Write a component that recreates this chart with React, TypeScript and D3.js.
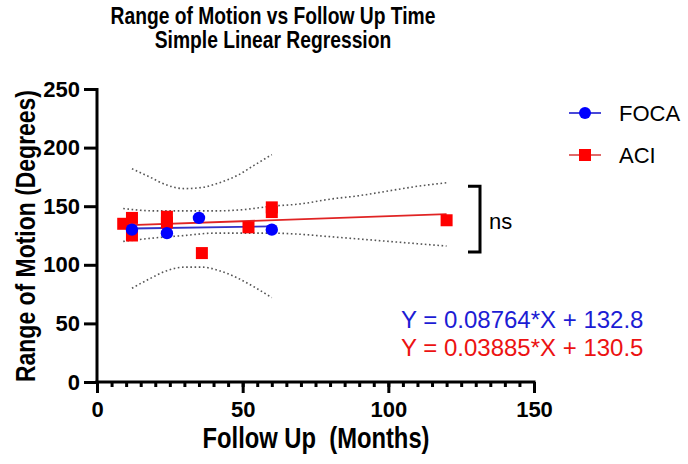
import React, {useEffect, useRef} from 'react';
import * as d3 from 'd3';

// FOCA measurements (months, degrees)
const focaX = [12, 24, 35, 60];
const focaY = [130, 127, 140, 130];

// ACI measurements (months, degrees)
const aciX = [9, 12, 12, 24, 24, 36, 52, 60, 60, 120];
const aciY = [135, 140, 125, 141, 136, 110, 132, 149, 145, 138];

// linear fits: index 0 = FOCA, 1 = ACI
const fitSlopes = [0.03885, 0.08764];
const fitIntercepts = [130.5, 132.8];
const fitRanges = [[12, 60], [9, 120]];

// 95% confidence bands
const focaBandX = [12, 18, 24, 30, 36, 42, 48, 54, 60];
const focaUpper = [182, 175, 168, 165, 166, 170, 176, 185, 194];
const focaLower = [80, 88, 95, 98, 98, 95, 89, 81, 72];
const aciBandX = [9, 20, 30, 40, 50, 60, 70, 80, 90, 100, 110, 120];
const aciUpper = [148, 146, 146, 146, 147, 150, 152, 156, 159, 163, 167, 170];
const aciLower = [120, 123, 125, 127, 127, 127, 126, 124, 122, 120, 118, 116];

const xTicks = [0, 50, 100, 150];
const yTicks = [0, 50, 100, 150, 200, 250];
const seriesNames = ['FOCA', 'ACI'];

// equations printed in the lower right, in this order and colour
const equationOrder = [1, 0];
const equationColors = ['#1c1cd4', '#ec1212'];

const BOLD = '"Liberation Sans", Arial, sans-serif';

const RegressionChart = () => {
  const svgRef = useRef(null);

  useEffect(() => {
    const svg = d3.select(svgRef.current);
    svg.selectAll('*').remove();

    const x = d3.scaleLinear().domain([0, 150]).range([97, 534]);
    const y = d3.scaleLinear().domain([0, 250]).range([382, 89]);

    // titles (narrow bold)
    const title = svg.append('g').attr('transform', 'translate(273,0) scale(0.82,1)');
    title.append('text').attr('y', 24).text('Range of Motion vs Follow Up Time');
    title.append('text').attr('y', 48).text('Simple Linear Regression');
    title.selectAll('text')
      .attr('text-anchor', 'middle')
      .attr('font-family', BOLD)
      .attr('font-weight', 'bold')
      .attr('font-size', 23.5);

    svg.append('g')
      .attr('transform', 'translate(35,236) rotate(-90) scale(0.82,1)')
      .append('text')
      .attr('text-anchor', 'middle')
      .attr('font-family', BOLD)
      .attr('font-weight', 'bold')
      .attr('font-size', 28)
      .text('Range of Motion (Degrees)');

    svg.append('g')
      .attr('transform', 'translate(316,448) scale(0.82,1)')
      .append('text')
      .attr('text-anchor', 'middle')
      .attr('font-family', BOLD)
      .attr('font-weight', 'bold')
      .attr('font-size', 29)
      .attr('xml:space', 'preserve')
      .style('white-space', 'pre')
      .text('Follow Up  (Months)');

    // confidence bands
    const band = d3.line().curve(d3.curveMonotoneX);
    const bands = [
      [focaBandX, focaUpper], [focaBandX, focaLower],
      [aciBandX, aciUpper], [aciBandX, aciLower],
    ];
    bands.forEach(([bx, by]) => {
      svg.append('path')
        .attr('d', band(bx.map((v, i) => [x(v), y(by[i])])))
        .attr('fill', 'none')
        .attr('stroke', '#555')
        .attr('stroke-width', 1.6)
        .attr('stroke-dasharray', '1.6,2.6');
    });

    // fit lines
    const lineColors = ['#3232c8', '#e02424'];
    [1, 0].forEach(i => {
      const [x0, x1] = fitRanges[i];
      svg.append('line')
        .attr('x1', x(x0)).attr('x2', x(x1))
        .attr('y1', y(fitIntercepts[i] + fitSlopes[i] * x0))
        .attr('y2', y(fitIntercepts[i] + fitSlopes[i] * x1))
        .attr('stroke', lineColors[i])
        .attr('stroke-width', 1.8);
    });

    // points
    svg.append('g').selectAll('rect')
      .data(aciX.map((v, i) => [v, aciY[i]]))
      .enter().append('rect')
      .attr('x', d => x(d[0]) - 6)
      .attr('y', d => y(d[1]) - 6)
      .attr('width', 12).attr('height', 12)
      .attr('fill', '#ff0000');
    svg.append('g').selectAll('circle')
      .data(focaX.map((v, i) => [v, focaY[i]]))
      .enter().append('circle')
      .attr('cx', d => x(d[0]))
      .attr('cy', d => y(d[1]))
      .attr('r', 6.2)
      .attr('fill', '#0000ff');

    // axes
    const yAxis = svg.append('g')
      .attr('transform', 'translate(97,0)')
      .call(d3.axisLeft(y).tickValues(yTicks).tickSize(13).tickSizeOuter(0).tickPadding(4));
    const xMinor = svg.append('g')
      .attr('transform', 'translate(0,382)')
      .call(d3.axisBottom(x).tickValues(d3.range(0, 151, 5)).tickSize(5).tickSizeOuter(0).tickFormat(() => ''));
    const xAxis = svg.append('g')
      .attr('transform', 'translate(0,382)')
      .call(d3.axisBottom(x).tickValues(xTicks).tickSize(11).tickSizeOuter(0));
    xMinor.select('.domain').remove();
    [yAxis, xMinor, xAxis].forEach(g => {
      g.selectAll('path, line').attr('stroke', '#000').attr('stroke-width', 3);
      g.selectAll('text')
        .attr('fill', '#000')
        .attr('font-family', BOLD)
        .attr('font-weight', 'bold')
        .attr('font-size', 22);
    });
    yAxis.select('.domain').attr('d', `M0,${y(250) - 1}V${y(0) + 1.5}`);
    xAxis.select('.domain').attr('d', `M${x(0) - 1.5},0H${x(150) + 1.5}`);
    xAxis.selectAll('text').attr('y', 35).attr('dy', 0);

    // legend
    const legend = svg.append('g');
    const legendLine = ['#4848d8', '#e06a6a'];
    seriesNames.forEach((name, i) => {
      const ly = 113 + i * 42;
      legend.append('line')
        .attr('x1', 569).attr('x2', 601).attr('y1', ly).attr('y2', ly)
        .attr('stroke', legendLine[i]).attr('stroke-width', 2);
      if (i === 0) {
        legend.append('circle').attr('cx', 585).attr('cy', ly).attr('r', 6).attr('fill', '#0000ff');
      } else {
        legend.append('rect').attr('x', 579).attr('y', ly - 6).attr('width', 12).attr('height', 12).attr('fill', '#ff0000');
      }
      legend.append('text')
        .attr('x', 619).attr('y', ly + 8)
        .attr('font-family', BOLD)
        .attr('font-size', 22)
        .attr('fill', '#000')
        .text(name);
    });

    // significance bracket
    svg.append('path')
      .attr('d', `M468,${y(167)}H480V${y(111)}H468`)
      .attr('fill', 'none')
      .attr('stroke', '#000')
      .attr('stroke-width', 3);
    svg.append('text')
      .attr('x', 489).attr('y', 229)
      .attr('font-family', BOLD)
      .attr('font-size', 22)
      .text('ns');

    // fit equations
    equationOrder.forEach((fi, k) => {
      svg.append('text')
        .attr('x', 401).attr('y', 328 + k * 28)
        .attr('font-family', BOLD)
        .attr('font-size', 24)
        .attr('fill', equationColors[k])
        .text(`Y = ${fitSlopes[fi]}*X + ${fitIntercepts[fi]}`);
    });
  }, []);

  return (
    <div style={{position: 'fixed', left: 0, top: 0, background: '#fff'}}>
      <svg ref={svgRef} width={688} height={464} style={{display: 'block'}}></svg>
    </div>
  );
};

export default function App() {
  return <RegressionChart />;
}
